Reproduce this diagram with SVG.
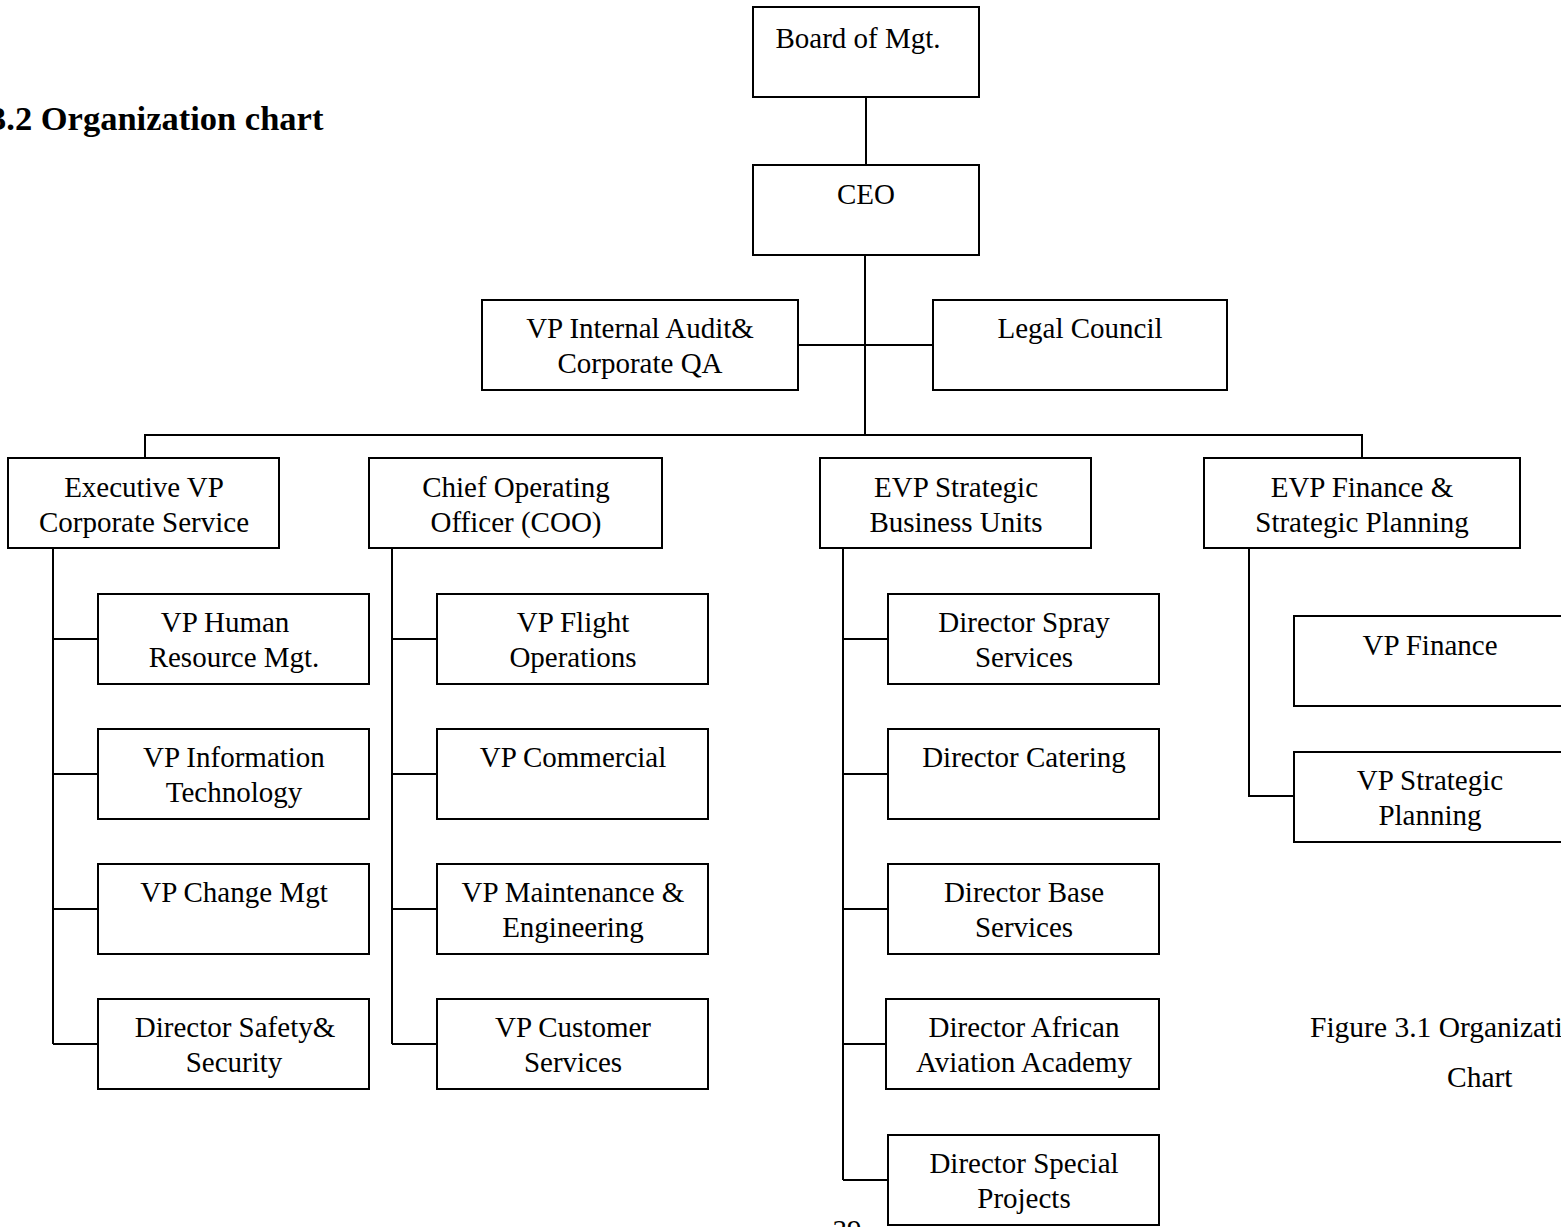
<svg xmlns="http://www.w3.org/2000/svg" width="1561" height="1227" viewBox="0 0 1561 1227">
  <style>
    .box { fill: #fff; stroke: #000; stroke-width: 2; }
    .lbl { font-family: "Liberation Serif", "Times New Roman", serif; font-size: 29px; fill: #000; text-anchor: middle; }
    .link { fill: none; stroke: #000; stroke-width: 2; }
    .title { font-family: "Liberation Serif", "Times New Roman", serif; font-size: 34.5px; font-weight: bold; fill: #000; }
    .cap { font-family: "Liberation Serif", "Times New Roman", serif; font-size: 29.5px; fill: #000; }
  </style>
  <rect width="1561" height="1227" fill="#fff"/>

  <text class="title" x="-11" y="130">3.2 Organization chart</text>

  <!-- connectors -->
  <g id="connectors" class="link">
    <path d="M866 97 V165"/>
    <path d="M865 255 V435"/>
    <path d="M798 345 H933"/>
    <path d="M145 458 V435 H1362 V458"/>
    <!-- Executive VP Corporate Service -->
    <path d="M53 548 V1044"/>
    <path d="M53 639 H98 M53 774 H98 M53 909 H98 M53 1044 H98"/>
    <!-- COO -->
    <path d="M392 548 V1044"/>
    <path d="M392 639 H437 M392 774 H437 M392 909 H437 M392 1044 H437"/>
    <!-- EVP Strategic Business Units -->
    <path d="M843 548 V1180"/>
    <path d="M843 639 H888 M843 774 H888 M843 909 H888 M843 1044 H888 M843 1180 H888"/>
    <!-- EVP Finance -->
    <path d="M1249 548 V796 H1294"/>
  </g>

  <g id="board">
    <rect class="box" x="753" y="7" width="226" height="90"/>
    <text class="lbl" x="858" y="48">Board of Mgt.</text>
  </g>
  <g id="ceo">
    <rect class="box" x="753" y="165" width="226" height="90"/>
    <text class="lbl" x="866" y="204">CEO</text>
  </g>
  <g id="internal-audit">
    <rect class="box" x="482" y="300" width="316" height="90"/>
    <text class="lbl" x="640" y="338">VP Internal Audit&amp;</text>
    <text class="lbl" x="640" y="373">Corporate QA</text>
  </g>
  <g id="legal">
    <rect class="box" x="933" y="300" width="294" height="90"/>
    <text class="lbl" x="1080" y="338">Legal Council</text>
  </g>

  <g id="evp-corporate">
    <rect class="box" x="8" y="458" width="271" height="90"/>
    <text class="lbl" x="144" y="497">Executive VP</text>
    <text class="lbl" x="144" y="532">Corporate Service</text>
  </g>
  <g id="coo">
    <rect class="box" x="369" y="458" width="293" height="90"/>
    <text class="lbl" x="516" y="497">Chief Operating</text>
    <text class="lbl" x="516" y="532">Officer (COO)</text>
  </g>
  <g id="evp-sbu">
    <rect class="box" x="820" y="458" width="271" height="90"/>
    <text class="lbl" x="956" y="497">EVP Strategic</text>
    <text class="lbl" x="956" y="532">Business Units</text>
  </g>
  <g id="evp-finance">
    <rect class="box" x="1204" y="458" width="316" height="90"/>
    <text class="lbl" x="1362" y="497">EVP Finance &amp;</text>
    <text class="lbl" x="1362" y="532">Strategic Planning</text>
  </g>

  <!-- corporate service units -->
  <g id="vp-hr">
    <rect class="box" x="98" y="594" width="271" height="90"/>
    <text class="lbl" x="225" y="632">VP Human</text>
    <text class="lbl" x="234" y="667">Resource Mgt.</text>
  </g>
  <g id="vp-it">
    <rect class="box" x="98" y="729" width="271" height="90"/>
    <text class="lbl" x="234" y="767">VP Information</text>
    <text class="lbl" x="234" y="802">Technology</text>
  </g>
  <g id="vp-change">
    <rect class="box" x="98" y="864" width="271" height="90"/>
    <text class="lbl" x="234" y="902">VP Change Mgt</text>
  </g>
  <g id="dir-safety">
    <rect class="box" x="98" y="999" width="271" height="90"/>
    <text class="lbl" x="235" y="1037">Director Safety&amp;</text>
    <text class="lbl" x="234" y="1072">Security</text>
  </g>

  <!-- operations units -->
  <g id="vp-flight">
    <rect class="box" x="437" y="594" width="271" height="90"/>
    <text class="lbl" x="573" y="632">VP Flight</text>
    <text class="lbl" x="573" y="667">Operations</text>
  </g>
  <g id="vp-commercial">
    <rect class="box" x="437" y="729" width="271" height="90"/>
    <text class="lbl" x="573" y="767">VP Commercial</text>
  </g>
  <g id="vp-maintenance">
    <rect class="box" x="437" y="864" width="271" height="90"/>
    <text class="lbl" x="573" y="902">VP Maintenance &amp;</text>
    <text class="lbl" x="573" y="937">Engineering</text>
  </g>
  <g id="vp-customer">
    <rect class="box" x="437" y="999" width="271" height="90"/>
    <text class="lbl" x="573" y="1037">VP Customer</text>
    <text class="lbl" x="573" y="1072">Services</text>
  </g>

  <!-- strategic business units -->
  <g id="dir-spray">
    <rect class="box" x="888" y="594" width="271" height="90"/>
    <text class="lbl" x="1024" y="632">Director Spray</text>
    <text class="lbl" x="1024" y="667">Services</text>
  </g>
  <g id="dir-catering">
    <rect class="box" x="888" y="729" width="271" height="90"/>
    <text class="lbl" x="1024" y="767">Director Catering</text>
  </g>
  <g id="dir-base">
    <rect class="box" x="888" y="864" width="271" height="90"/>
    <text class="lbl" x="1024" y="902">Director Base</text>
    <text class="lbl" x="1024" y="937">Services</text>
  </g>
  <g id="dir-academy">
    <rect class="box" x="886" y="999" width="273" height="90"/>
    <text class="lbl" x="1024" y="1037">Director African</text>
    <text class="lbl" x="1024" y="1072">Aviation Academy</text>
  </g>
  <g id="dir-special">
    <rect class="box" x="888" y="1135" width="271" height="90"/>
    <text class="lbl" x="1024" y="1173">Director Special</text>
    <text class="lbl" x="1024" y="1208">Projects</text>
  </g>

  <!-- finance units -->
  <g id="vp-finance">
    <rect class="box" x="1294" y="616" width="272" height="90"/>
    <text class="lbl" x="1430" y="655">VP Finance</text>
  </g>
  <g id="vp-strategic">
    <rect class="box" x="1294" y="752" width="272" height="90"/>
    <text class="lbl" x="1430" y="790">VP Strategic</text>
    <text class="lbl" x="1430" y="825">Planning</text>
  </g>

  <text class="cap" x="1310" y="1037">Figure 3.1 Organization</text>
  <text class="cap" x="1447" y="1087">Chart</text>

  <text class="lbl" x="847" y="1240">39</text>
</svg>
